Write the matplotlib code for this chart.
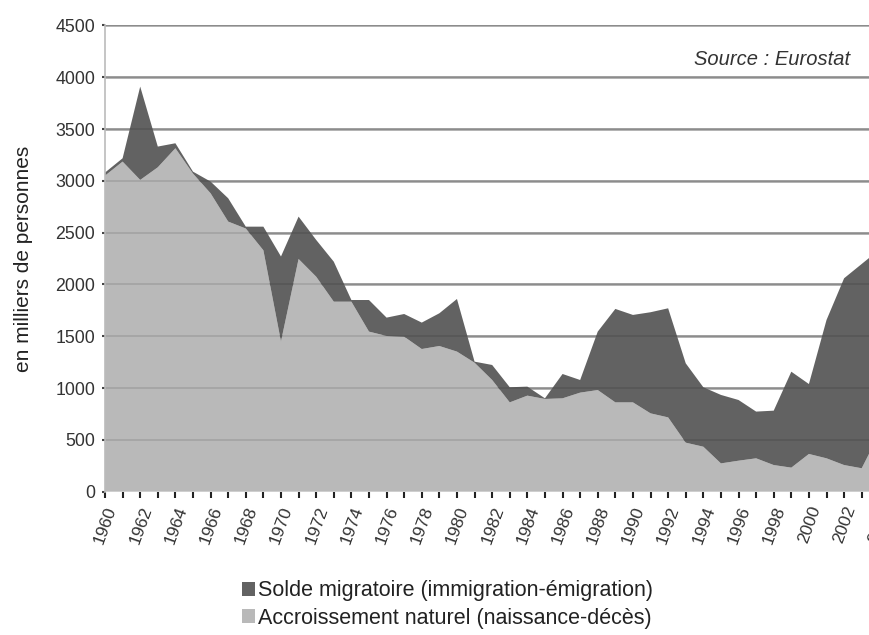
import matplotlib
matplotlib.use("Agg")
import matplotlib.pyplot as plt
from matplotlib.patches import Patch
import numpy as np

plt.rcParams['font.family'] = ['Liberation Sans', 'DejaVu Sans']

# EU population growth, thousands of persons
years = list(range(1960, 2005))
natural = [3050, 3186, 3009, 3131, 3315, 3070, 2880, 2607, 2540, 2330,
           1450, 2246, 2075, 1834, 1834, 1545, 1503, 1496, 1377, 1406,
           1352, 1245, 1078, 862, 927, 895, 901, 956, 981, 862,
           862, 756, 717, 473, 434, 273, 299, 322, 257, 232,
           364, 322, 257, 226, 560]
migration = [30, 32, 901, 200, 48, 19, 113, 225, 18, 228,
             820, 409, 355, 386, 16, 305, 177, 219, 255, 316,
             508, 10, 145, 146, 87, 6, 235, 122, 564, 902,
             844, 976, 1053, 766, 574, 661, 586, 451, 525, 926,
             675, 1335, 1803, 1972, 1776]
yticks = list(range(0, 5000, 500))
xlabels = [str(y) if y % 2 == 0 else '' for y in years]

light = '#b9b9b9'
dark = '#626262'

fig = plt.figure(figsize=(8.7, 6.35), dpi=100)
ax = fig.add_axes([0.1207, 0.2257, 0.890, 0.7342])

# grid behind
for v in yticks[1:]:
    ax.axhline(v, color='#9c9c9c', lw=1.8, zorder=0)

ax.stackplot(years, natural, migration, colors=[light, dark], zorder=1, lw=0)

# faint grid over the areas
for v in yticks[1:]:
    ax.axhline(v, color='black', lw=1.2, alpha=0.12, zorder=2)

ax.set_xlim(1960, 2004)
ax.set_ylim(0, 4500)
ax.set_xticks(years)
ax.set_xticklabels(xlabels, rotation=70, ha='right', va='top',
                   rotation_mode='anchor', fontsize=12.5, color='#333333')
ax.set_yticks(yticks)
ax.set_yticklabels([str(v) for v in yticks], fontsize=12.8, color='#333333')
ax.tick_params(axis='x', length=4, width=1.5, color='#222222', pad=5)
ax.tick_params(axis='y', length=2, width=1.5, color='#444444', pad=5)

for s in ['top', 'right', 'bottom']:
    ax.spines[s].set_visible(False)
ax.spines['left'].set_color('#bbbbbb')
ax.spines['left'].set_linewidth(1.2)

ax.set_ylabel('en milliers de personnes', fontsize=15, color='#222222', labelpad=16)

ax.text(0.977, 0.906, 'Source : Eurostat', transform=fig.transFigure,
        ha='right', va='center', fontsize=14.5, style='italic', color='#333333')

handles = [Patch(facecolor=dark, edgecolor='none'),
           Patch(facecolor=light, edgecolor='none')]
fig.legend(handles, ['Solde migratoire (immigration-émigration)',
                     'Accroissement naturel (naissance-décès)'],
           loc='center left', bbox_to_anchor=(0.256, 0.048), frameon=False,
           fontsize=15.5, handlelength=0.6, handleheight=0.6,
           handletextpad=0.15, labelspacing=0.3, labelcolor='#222222')

fig.savefig('out.png', dpi=100)
